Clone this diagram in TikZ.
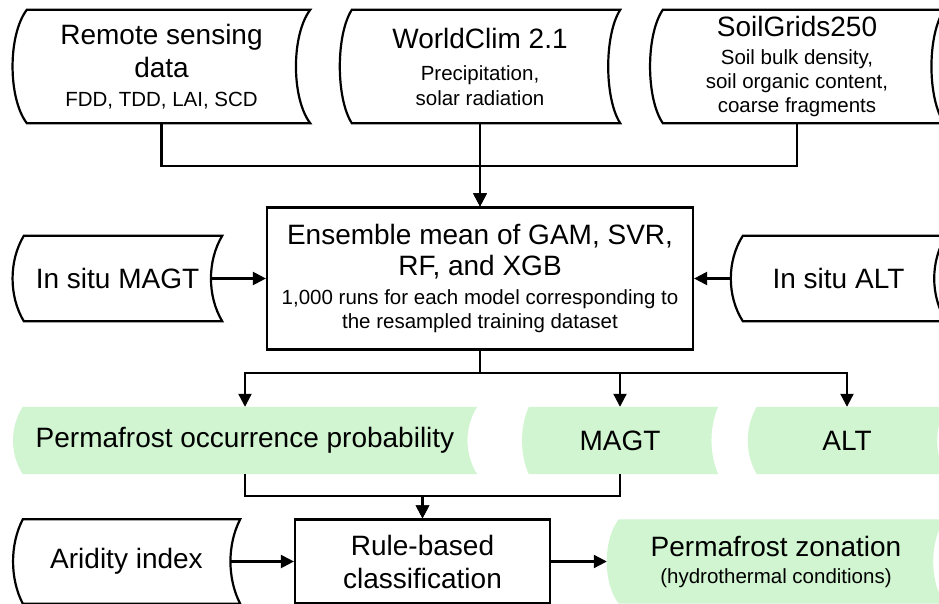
\documentclass[tikz,border=0pt]{standalone}
\usepackage{fontspec}
\setmainfont{Liberation Sans}
\usetikzlibrary{arrows.meta,backgrounds}

\newlength{\du}
\setlength{\du}{1pt}
\newcommand{\bigtxt}{\fontsize{28}{33}\selectfont}
\newcommand{\smalltxt}{\fontsize{20.5}{23.5}\selectfont}
\definecolor{resultcolor}{RGB}{208,245,208}

\tikzset{
  line/.style={line width=2.2\du, draw=black},
  arr/.style={-{Triangle[length=13pt,width=13pt]}},
  box/.style={draw, line width=2.2\du, inner sep=0pt, align=center, font=\bigtxt},
  store/.style={inner sep=0pt, align=center, font=\bigtxt},
  outline/.style={line width=2.2\du, draw=black, fill=white},
  result/.style={fill=resultcolor, draw=none},
}

\begin{document}
\begin{tikzpicture}
\pgftransformxscale{1.000000}
\pgftransformyscale{-1.000000}
\useasboundingbox (0\du,0\du) rectangle (939\du,604\du);
% input data
\node[store, minimum width=297\du, minimum height=113\du] (rs) at (161.5\du,66.5\du)
  {Remote sensing\\data\\[-4\du]{\smalltxt FDD, TDD, LAI, SCD}};
\node[store, minimum width=280\du, minimum height=113\du] (wc) at (480\du,66.5\du)
  {WorldClim 2.1\\[-1\du]{\smalltxt Precipitation,}\\[-8\du]{\smalltxt solar radiation}};
\node[store, minimum width=294\du, minimum height=113\du] (sg) at (797\du,66.5\du)
  {SoilGrids250\\[-5\du]{\smalltxt Soil bulk density,}\\[-9\du]{\smalltxt soil organic content,}\\[-9\du]{\smalltxt coarse fragments}};
\node[store, minimum width=209\du, minimum height=85\du] (magtin) at (117.5\du,278.5\du) {In situ MAGT};
\node[store, minimum width=215\du, minimum height=85\du] (altin) at (838.5\du,278.5\du) {In situ ALT};
\node[store, minimum width=227\du, minimum height=84\du] (ari) at (126.5\du,561.5\du) {Aridity index};
% models
\node[box, minimum width=426\du, minimum height=142\du] (ens) at (480\du,278.5\du)
  {Ensemble mean of GAM, SVR,\\[-2\du]RF, and XGB\\[-4\du]{\smalltxt 1,000 runs for each model corresponding to}\\[-9\du]{\smalltxt the resampled training dataset}};
\node[box, minimum width=255\du, minimum height=84\du] (rule) at (422.5\du,561.5\du) {Rule-based\\classification};
% results
\node[store, minimum width=464\du, minimum height=67\du] (pop) at (245\du,440.5\du) {Permafrost occurrence probability};
\node[store, minimum width=196\du, minimum height=67\du] (mg) at (620\du,440.5\du) {MAGT};
\node[store, minimum width=198\du, minimum height=67\du] (ag) at (847\du,440.5\du) {ALT};
\node[store, minimum width=338\du, minimum height=84\du] (pz) at (776\du,561.5\du)
  {Permafrost zonation\\[-6\du]{\smalltxt (hydrothermal conditions)}};

\begin{scope}[on background layer]
\fill[white] (0\du,0\du) rectangle (939\du,604\du);
\foreach \n/\b/\k in {rs/14/19,wc/12/16,sg/13/17,magtin/11/15,altin/12/16,ari/10/13}
  \draw[outline] ([xshift=\b\du]\n.north west) .. controls +(-\k\du,25\du) and +(-\k\du,-25\du) .. ([xshift=\b\du]\n.south west)
    -- (\n.south east) .. controls +(-\k\du,-25\du) and +(-\k\du,25\du) .. (\n.north east) -- cycle;
\foreach \n/\b/\k in {pop/10/13,mg/7/9,ag/9/12,pz/12/16}
  \fill[result] ([xshift=\b\du]\n.north west) .. controls +(-\k\du,20\du) and +(-\k\du,-20\du) .. ([xshift=\b\du]\n.south west)
    -- (\n.south east) .. controls +(-\k\du,-20\du) and +(-\k\du,20\du) .. (\n.north east) -- cycle;
\end{scope}

% connectors
\foreach \n in {rs,wc,sg}
  \draw[line,arr] (\n.south) -- ++(0\du,43\du) -| (ens.north);
\draw[line,arr] ([xshift=-11\du]magtin.east) -- (ens.west);
\draw[line,arr] (altin.west) -- (ens.east);
\foreach \n in {pop,mg,ag}
  \draw[line,arr] (ens.south) -- ++(0\du,22\du) -| (\n.north);
\foreach \n in {pop,mg}
  \draw[line,arr] (\n.south) -- ++(0\du,22\du) -| (rule.north);
\draw[line,arr] ([xshift=-10\du]ari.east) -- (rule.west);
\draw[line,arr] (rule.east) -- (pz.west);
\end{tikzpicture}
\end{document}
